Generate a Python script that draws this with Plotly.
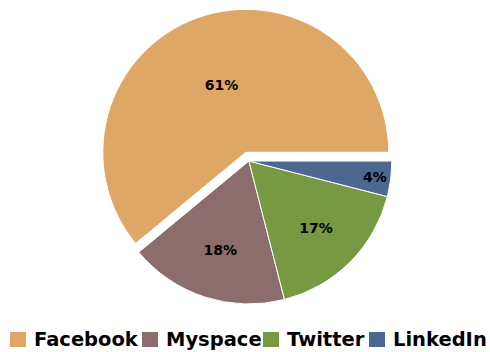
import plotly.graph_objects as go

# Data
categories = ["Facebook", "Myspace", "Twitter", "LinkedIn"]
shares = [61, 18, 17, 4]
colors = ["#DEA765", "#8C6C6C", "#769941", "#4C6891"]
pulls = [0.065, 0, 0, 0]

# Legend layout (pixel x of each swatch, in a 490px wide page)
legend_x_px = [10, 142, 263, 369]

W, H = 490, 352

# first slice spans counterclockwise from 3 o'clock
start_rotation = 90 - 360 * shares[0] / sum(shares)

fig = go.Figure()
fig.add_trace(go.Pie(
    labels=categories,
    values=shares,
    sort=False,
    direction="counterclockwise",
    rotation=start_rotation,
    pull=pulls,
    marker=dict(colors=colors, line=dict(color="white", width=1)),
    textinfo="percent",
    textposition="inside",
    insidetextorientation="horizontal",
    textfont=dict(family="DejaVu Sans", size=14, color="black", weight="bold"),
    domain=dict(x=[0.15, 0.866], y=[0.110, 0.975]),
    showlegend=False,
    hoverinfo="label+percent",
))

# Custom legend in one row along the bottom
shapes = []
annotations = []
sw, sh = 16, 15
y_top_px = 332
for cat, col, xpx in zip(categories, colors, legend_x_px):
    shapes.append(dict(
        type="rect", xref="paper", yref="paper",
        x0=xpx / W, x1=(xpx + sw) / W,
        y0=1 - (y_top_px + sh) / H, y1=1 - y_top_px / H,
        fillcolor=col, line=dict(width=0),
    ))
    annotations.append(dict(
        text=cat, xref="paper", yref="paper",
        x=(xpx + sw + 6) / W, y=1 - (y_top_px + sh / 2) / H,
        xanchor="left", yanchor="middle", showarrow=False,
        font=dict(family="DejaVu Sans", size=19.5, color="black", weight="bold"),
    ))

fig.update_layout(
    width=W, height=H,
    margin=dict(l=0, r=0, t=0, b=0),
    paper_bgcolor="white",
    plot_bgcolor="white",
    shapes=shapes,
    annotations=annotations,
)

fig.write_html("out.html")
